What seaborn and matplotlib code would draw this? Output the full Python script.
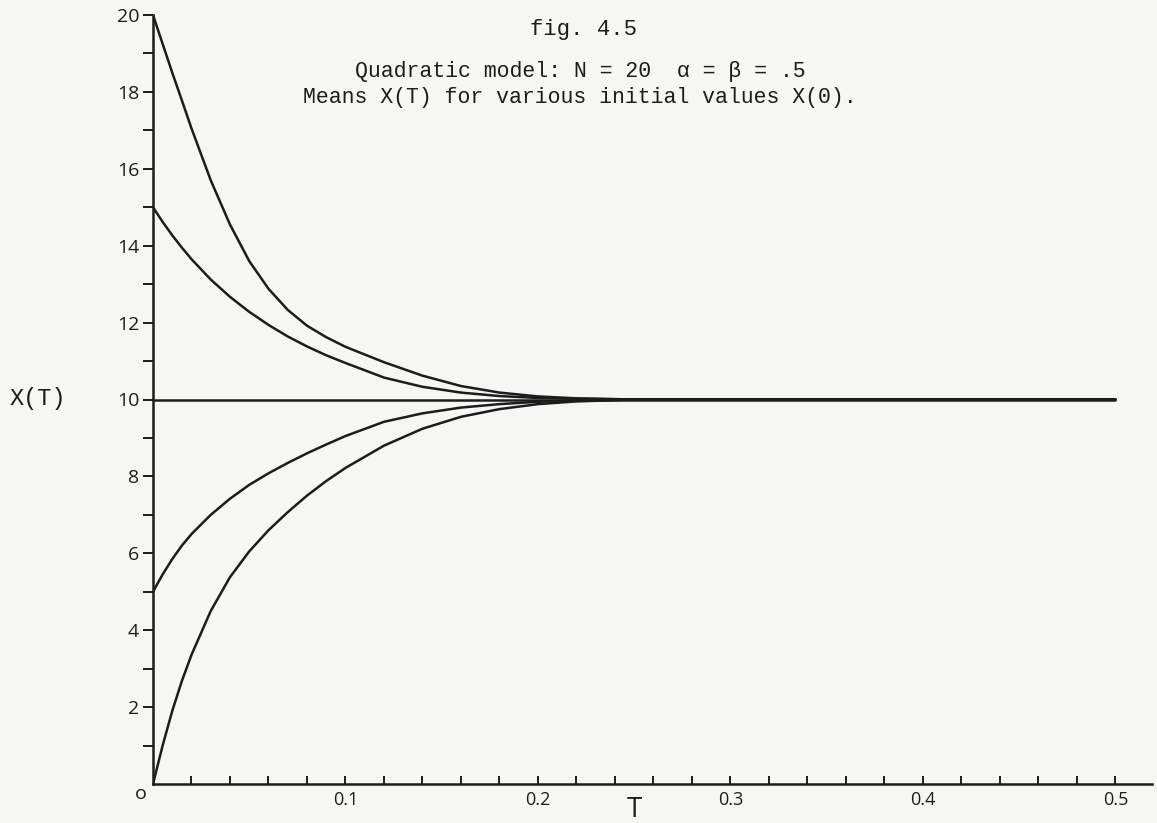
import numpy as np
import pandas as pd
import seaborn as sns
import matplotlib.pyplot as plt
from matplotlib.ticker import FixedLocator

# ---- data ----
T = [0, 0.005, 0.01, 0.015, 0.02, 0.03, 0.04, 0.05, 0.06, 0.07, 0.08, 0.09,
     0.10, 0.12, 0.14, 0.16, 0.18, 0.20, 0.22, 0.25, 0.50]
X_from_20 = [20, 19.25, 18.5, 17.78, 17.05, 15.7, 14.55, 13.6, 12.88, 12.33, 11.92,
             11.62, 11.37, 10.97, 10.62, 10.35, 10.18, 10.08, 10.03, 10.0, 10.0]
X_from_15 = [15, 14.62, 14.27, 13.95, 13.65, 13.12, 12.67, 12.28, 11.94, 11.64, 11.38,
             11.15, 10.95, 10.57, 10.33, 10.18, 10.09, 10.04, 10.02, 10.0, 10.0]
X_from_10 = [10] * len(T)
X_from_5 = [5.0, 5.45, 5.85, 6.2, 6.5, 7.0, 7.42, 7.78, 8.08, 8.35, 8.6,
            8.83, 9.05, 9.42, 9.64, 9.79, 9.88, 9.94, 9.98, 10.0, 10.0]
X_from_0 = [0.0, 1.0, 1.9, 2.68, 3.36, 4.5, 5.38, 6.05, 6.6, 7.07, 7.5,
            7.88, 8.22, 8.8, 9.24, 9.55, 9.75, 9.88, 9.95, 10.0, 10.0]
series = {"20": X_from_20, "15": X_from_15, "10": X_from_10,
          "5": X_from_5, "0": X_from_0}

y_major = [2, 4, 6, 8, 10, 12, 14, 16, 18, 20]
y_minor = [1, 3, 5, 7, 9, 11, 13, 15, 17, 19]
x_major = [0.1, 0.2, 0.3, 0.4, 0.5]
x_major_labels = ["0.1", "0.2", "0.3", "0.4", "0.5"]
x_minor = [0.02, 0.04, 0.06, 0.08, 0.12, 0.14, 0.16, 0.18, 0.22, 0.24, 0.26,
           0.28, 0.32, 0.34, 0.36, 0.38, 0.42, 0.44, 0.46, 0.48]

title1 = "fig. 4.5"
title2 = "Quadratic model: N = 20  \u03b1 = \u03b2 = .5"
title3 = "Means X(T) for various initial values X(0)."

rows = []
for k, vals in series.items():
    for t, v in zip(T, vals):
        rows.append({"T": t, "X": v, "start": k})
df = pd.DataFrame(rows)

sns.set_theme(style="white")
plt.rcParams["font.family"] = ["Open Sans", "DejaVu Sans"]

paper = "#f6f6f4"
ink = "#1c1c1c"

fig = plt.figure(figsize=(11.57, 8.23), dpi=100, facecolor=paper)
ax = fig.add_axes([153 / 1157, 1 - 784 / 823, (1152 - 153) / 1157, (784 - 15) / 823])
ax.set_facecolor(paper)

sns.lineplot(data=df, x="T", y="X", units="start", estimator=None, sort=False,
             color=ink, linewidth=1.8, ax=ax, legend=False)

ax.set_xlim(0, 0.519)
ax.set_ylim(0, 20)

for s in ["top", "right"]:
    ax.spines[s].set_visible(False)
for s in ["left", "bottom"]:
    ax.spines[s].set_color(ink)
    ax.spines[s].set_linewidth(1.8)

ax.yaxis.set_major_locator(FixedLocator(y_major))
ax.yaxis.set_minor_locator(FixedLocator(y_minor))
ax.set_yticklabels([str(v) for v in y_major])
ax.tick_params(axis="y", which="both", direction="out", length=7, width=1.4,
               color=ink, left=True, labelsize=14, labelcolor=ink, pad=3)

ax.xaxis.set_major_locator(FixedLocator(x_major))
ax.xaxis.set_minor_locator(FixedLocator(x_minor))
ax.set_xticklabels(x_major_labels)
ax.tick_params(axis="x", which="both", direction="in", length=6, width=1.4,
               color=ink, bottom=True, labelsize=13, labelcolor=ink, pad=5)

ax.annotate("o", xy=(0, 0), xytext=(-9, -7), textcoords="offset points",
            ha="center", va="center", fontsize=14, color=ink)

ax.set_xlabel("T", fontsize=20, color=ink)
ax.xaxis.set_label_coords(0.25 / 0.519, -0.016)
ax.set_ylabel("")

mono = ["Liberation Mono", "DejaVu Sans Mono"]
fig.text(583 / 1157, 1 - 30 / 823, title1, ha="center", va="center",
         fontsize=16, family=mono, color=ink)
fig.text(580 / 1157, 1 - 72 / 823, title2, ha="center", va="center",
         fontsize=15.5, family=mono, color=ink)
fig.text(580 / 1157, 1 - 97 / 823, title3, ha="center", va="center",
         fontsize=15.5, family=mono, color=ink)
fig.text(38 / 1157, 1 - 398 / 823, "X(T)", ha="center", va="center",
         fontsize=17, family=mono, color=ink)

fig.savefig("out.png", dpi=100, facecolor=paper)
